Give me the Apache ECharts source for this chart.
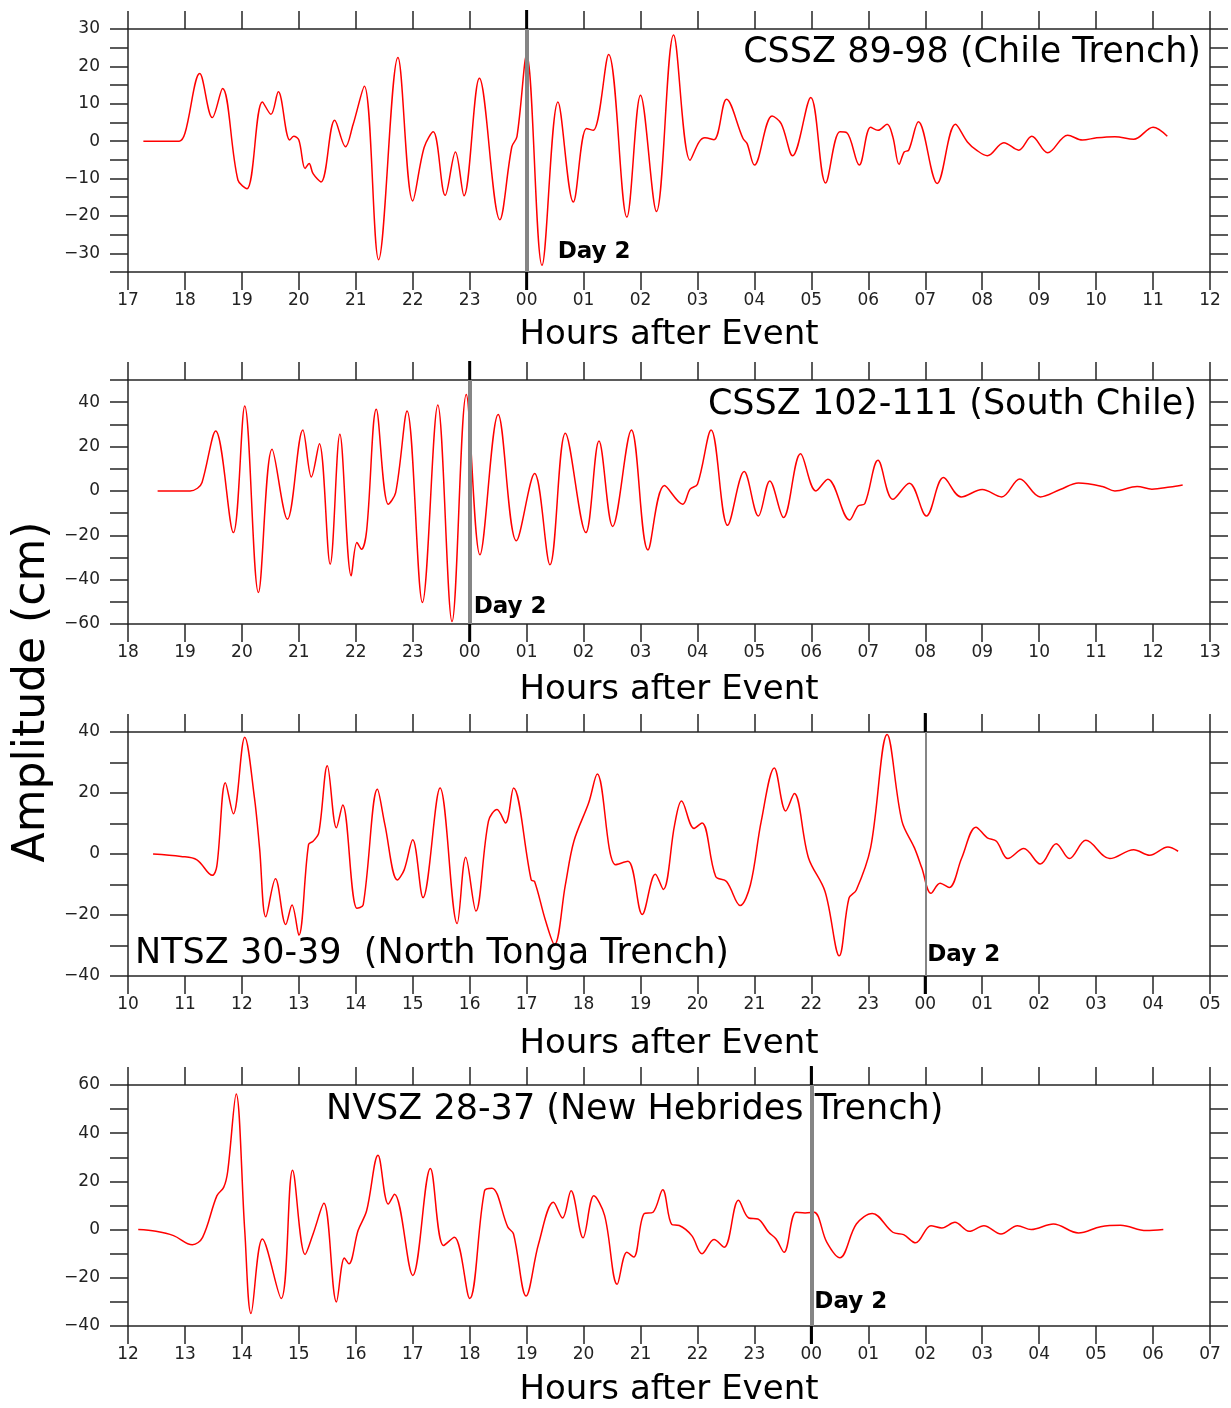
<!DOCTYPE html>
<html>
<head>
<meta charset="utf-8">
<title>Tsunami amplitude time series</title>
<script src="https://cdn.jsdelivr.net/npm/echarts@6/dist/echarts.min.js"></script>
<style>
  html, body { margin: 0; padding: 0; background: #ffffff; }
  #chart { width: 1231px; height: 1408px; }
</style>
</head>
<body>
<div id="chart"></div>
<script>
// ---------- Data: hours after event (continuous, >24 = next day) and amplitude in cm ----------

// CSSZ 89-98 (Chile Trench)
const chileHours = [17.27, 17.60, 17.90, 18.00, 18.26, 18.48, 18.66, 18.93, 19.09, 19.36, 19.51, 19.64,
  19.84, 19.91, 20.00, 20.11, 20.18, 20.25, 20.39, 20.63, 20.82, 20.95, 21.15, 21.40, 21.74, 22.00,
  22.20, 22.36, 22.57, 22.75, 22.90, 23.17, 23.53, 23.74, 23.83, 24.00, 24.27, 24.55, 24.82, 25.05,
  25.17, 25.44, 25.76, 26.00, 26.28, 26.58, 26.87, 27.03, 27.13, 27.29, 27.51, 27.80, 27.87, 28.00,
  28.31, 28.47, 28.67, 28.99, 29.25, 29.50, 29.62, 29.84, 30.04, 30.17, 30.33, 30.43, 30.54, 30.63,
  30.71, 30.88, 31.21, 31.53, 31.74, 31.90, 32.09, 32.38, 32.64, 32.87, 33.15, 33.50, 33.76, 34.01,
  34.33, 34.66, 35.00, 35.25];
const chileAmp = [0, 0, 0, 2.1, 18.1, 6.3, 14.1, -10.4, -12.7, 10.5, 7.2, 13.2,
  0.3, 1.3, 0.3, -7.3, -6.0, -8.7, -10.9, 5.6, -1.5, 4.3, 14.7, -31.7, 22.4, -16.0,
  -1.7, 2.5, -14.5, -2.9, -14.6, 16.8, -21.0, -1.5, 1.2, 23.2, -33.2, 10.5, -16.3, 3.4,
  2.9, 23.2, -20.3, 12.3, -18.8, 28.4, -5.1, -0.2, 0.9, 0.4, 11.2, 0.7, -0.6, -6.4,
  6.7, 4.7, -3.9, 11.7, -11.2, 2.5, 2.3, -6.4, 3.7, 2.9, 4.5, 1.2, -6.2, -2.9,
  -2.4, 5.2, -11.3, 4.5, -0.2, -2.4, -3.9, -0.4, -2.4, 1.3, -3.1, 1.6, 0.3, 0.9,
  1.2, 0.5, 3.7, 1.3];

// CSSZ 102-111 (South Chile)
const southChileHours = [18.52, 19.09, 19.22, 19.30, 19.54, 19.85, 20.05, 20.29, 20.53, 20.80, 21.07,
  21.22, 21.36, 21.55, 21.72, 21.92, 22.02, 22.10, 22.19, 22.36, 22.57, 22.70, 22.90, 23.17, 23.44,
  23.69, 23.94, 24.18, 24.50, 24.82, 25.14, 25.41, 25.68, 26.04, 26.27, 26.51, 26.84, 27.13, 27.42,
  27.74, 27.87, 28.00, 28.24, 28.53, 28.82, 29.07, 29.27, 29.51, 29.81, 30.08, 30.29, 30.67, 30.82,
  30.94, 31.17, 31.43, 31.72, 32.02, 32.32, 32.63, 33.00, 33.34, 33.66, 34.02, 34.37, 34.69, 35.11,
  35.33, 35.72, 35.98, 36.30, 36.52];
const southChileAmp = [0, 0, 1.2, 3.8, 27.0, -18.8, 38.3, -45.8, 18.8, -12.8, 27.5,
  6.3, 21.3, -33.0, 25.5, -38.3, -23.3, -26.3, -18.0, 36.8, -6.0, -0.8, 36.0, -50.3, 38.7,
  -58.9, 43.5, -28.8, 34.5, -22.5, 7.8, -33.3, 26.0, -18.8, 22.5, -16.0, 27.5, -26.6, 2.4,
  -6.0, 0.8, 3.0, 27.5, -15.5, 8.7, -11.3, 4.5, -12.0, 16.8, 0.0, 5.3, -13.1, -6.8,
  -5.7, 13.8, -3.8, 3.5, -11.3, 6.0, -2.7, 0.6, -2.7, 5.4, -2.7, 0.6, 3.6, 2.0,
  0.0, 2.0, 0.8, 1.8, 2.7];

// NTSZ 30-39 (North Tonga Trench)
const tongaHours = [10.44, 10.93, 11.21, 11.48, 11.56, 11.71, 11.85, 12.05, 12.22, 12.31, 12.42, 12.59,
  12.77, 12.88, 13.00, 13.17, 13.25, 13.35, 13.50, 13.66, 13.77, 14.02, 14.13, 14.38, 14.51, 14.73,
  14.85, 15.00, 15.18, 15.48, 15.78, 15.93, 16.11, 16.33, 16.48, 16.63, 16.77, 17.08, 17.14, 17.33,
  17.49, 17.68, 17.83, 18.09, 18.24, 18.56, 18.78, 19.03, 19.26, 19.40, 19.60, 19.72, 19.94, 20.08,
  20.32, 20.51, 20.75, 20.93, 21.12, 21.35, 21.55, 21.70, 21.95, 22.24, 22.49, 22.66, 22.79, 23.04,
  23.33, 23.59, 23.81, 23.94, 24.10, 24.26, 24.42, 24.64, 24.89, 25.09, 25.25, 25.45, 25.73, 26.02,
  26.30, 26.53, 26.82, 27.24, 27.66, 27.94, 28.26, 28.44];
const tongaAmp = [0, -0.8, -1.9, -7.0, -4.0, 23.4, 13.2, 38.3, 18.5, 2.0, -20.6, -8.1,
  -23.1, -16.7, -26.6, 3.1, 4.2, 6.9, 28.9, 8.6, 16.1, -17.8, -16.7, 21.2, 9.7, -8.5,
  -5.2, 4.7, -14.3, 21.6, -22.8, -1.1, -18.7, 10.8, 14.6, 10.2, 21.6, -8.5, -9.0, -21.7,
  -29.7, -10.1, 4.2, 16.8, 26.2, -3.5, -2.4, -19.8, -6.6, -11.6, 9.7, 17.4, 8.4, 10.2,
  -7.4, -9.0, -16.9, -10.1, 10.8, 28.2, 14.1, 19.8, -1.3, -12.3, -33.4, -14.5, -11.8, 2.0,
  39.2, 10.8, 2.0, -4.6, -12.9, -9.6, -11.0, -1.3, 8.8, 5.3, 4.2, -1.5, 1.8, -3.3,
  3.4, -1.5, 4.5, -1.5, 1.4, -0.4, 2.3, 0.9];

// NVSZ 28-37 (New Hebrides Trench)
const hebridesHours = [12.18, 12.49, 12.80, 13.13, 13.31, 13.56, 13.68, 13.75, 13.90, 14.05, 14.16, 14.36,
  14.69, 14.89, 15.11, 15.25, 15.44, 15.66, 15.80, 15.88, 16.04, 16.19, 16.39, 16.57, 16.68, 17.00,
  17.31, 17.54, 17.73, 18.00, 18.26, 18.39, 18.67, 18.77, 18.99, 19.21, 19.47, 19.63, 19.78, 19.99,
  20.18, 20.37, 20.59, 20.76, 20.88, 21.06, 21.22, 21.39, 21.55, 21.68, 21.90, 22.08, 22.29, 22.47,
  22.72, 22.90, 23.06, 23.25, 23.38, 23.52, 23.73, 23.89, 24.05, 24.27, 24.50, 24.79, 25.07, 25.43,
  25.62, 25.83, 26.10, 26.29, 26.52, 26.77, 27.03, 27.33, 27.62, 27.86, 28.25, 28.69, 29.08, 29.43,
  29.88, 30.18];
const hebridesAmp = [0, -0.7, -2.5, -6.3, -3.2, 14.0, 17.5, 24.0, 56.3, -0.4, -34.8, -3.9,
  -28.6, 24.6, -10.3, -1.8, 10.9, -30.0, -11.8, -14.2, -0.4, 7.8, 30.9, 10.6, 14.7, -19.0,
  25.4, -6.6, -3.2, -28.6, 16.1, 17.2, 1.0, -1.8, -27.6, -5.9, 11.3, 4.8, 16.1, -3.4,
  14.0, 5.8, -22.7, -9.4, -11.4, 6.5, 7.2, 16.5, 2.1, 1.7, -2.5, -10.0, -4.1, -7.3,
  12.2, 4.8, 4.4, -1.1, -3.9, -9.4, 7.2, 6.9, 7.2, -5.2, -11.7, 2.3, 6.7, -1.1,
  -2.1, -5.5, 1.6, 0.7, 3.0, -0.7, 1.6, -1.8, 1.6, 0.0, 2.3, -1.4, 1.2, 1.8,
  -0.4, 0.0];

// Panel titles
const titles = ['CSSZ 89-98 (Chile Trench)', 'CSSZ 102-111 (South Chile)',
  'NTSZ 30-39  (North Tonga Trench)', 'NVSZ 28-37 (New Hebrides Trench)'];

// ---------- Panel configuration ----------
const panels = [
  { hours: chileHours, amp: chileAmp, xMin: 17, xMax: 36, yMin: -35, yMax: 30, yStep: 5, yLabelStep: 10,
    top: 29, height: 243, nameGap: 46, dayWidth: 4, dayDx: 31, dayDy: 20,
    title: { text: titles[0], align: 'right', x: 1201, y: 53 } },
  { hours: southChileHours, amp: southChileAmp, xMin: 18, xMax: 37, yMin: -60, yMax: 50, yStep: 10, yLabelStep: 20,
    top: 380, height: 244, nameGap: 49, dayWidth: 4, dayDx: 4, dayDy: 17,
    title: { text: titles[1], align: 'right', x: 1197, y: 405 } },
  { hours: tongaHours, amp: tongaAmp, xMin: 10, xMax: 29, yMin: -40, yMax: 40, yStep: 10, yLabelStep: 20,
    top: 732, height: 244, nameGap: 51, dayWidth: 2, dayDx: 2, dayDy: 21,
    title: { text: titles[2], align: 'left', x: 135, y: 954 } },
  { hours: hebridesHours, amp: hebridesAmp, xMin: 12, xMax: 31, yMin: -40, yMax: 60, yStep: 10, yLabelStep: 20,
    top: 1085, height: 243, nameGap: 47, dayWidth: 4, dayDx: 3, dayDy: 24,
    title: { text: titles[3], align: 'left', x: 326, y: 1110 } }
];
const DAY_TWO = 24; // midnight, start of day 2

const FONT = 'DejaVu Sans';
const AXIS_COLOR = '#262626';
const hourLabel = v => String(((Math.round(v) % 24) + 24) % 24).padStart(2, '0');
const ampLabel = step => v => (Math.round(v) % step === 0 ? (v < 0 ? '\u2212' + (-v) : String(v)) : '');

const grids = [], xAxes = [], yAxes = [], series = [];
panels.forEach((p, i) => {
  grids.push({ left: 128, right: 21, top: p.top, height: p.height });
  const xCommon = { type: 'value', gridIndex: i, min: p.xMin, max: p.xMax, interval: 1,
    splitLine: { show: false },
    axisLine: { show: true, onZero: false, lineStyle: { color: AXIS_COLOR, width: 1.5 } },
    axisTick: { show: true, inside: false, length: 18, lineStyle: { color: AXIS_COLOR, width: 1.5 } } };
  xAxes.push(Object.assign({}, xCommon, { position: 'bottom',
    axisLabel: { show: true, formatter: hourLabel, fontFamily: FONT, fontSize: 17, color: '#222', margin: 20,
      showMinLabel: true, showMaxLabel: true, hideOverlap: false },
    name: 'Hours after Event', nameLocation: 'middle', nameGap: p.nameGap,
    nameTextStyle: { fontFamily: FONT, fontSize: 34, color: '#000' } }));
  xAxes.push(Object.assign({}, xCommon, { position: 'top', axisLabel: { show: false } }));
  const yCommon = { type: 'value', gridIndex: i, min: p.yMin, max: p.yMax, interval: p.yStep,
    splitLine: { show: false },
    axisLine: { show: true, onZero: false, lineStyle: { color: AXIS_COLOR, width: 1.5 } },
    axisTick: { show: true, inside: false, length: 18, lineStyle: { color: AXIS_COLOR, width: 1.5 } } };
  yAxes.push(Object.assign({}, yCommon, { position: 'left',
    axisLabel: { show: true, formatter: ampLabel(p.yLabelStep), fontFamily: FONT, fontSize: 17, color: '#222',
      margin: 28, showMinLabel: true, showMaxLabel: true, hideOverlap: false } }));
  yAxes.push(Object.assign({}, yCommon, { position: 'right', axisLabel: { show: false } }));

  series.push({
    type: 'line', xAxisIndex: 2 * i, yAxisIndex: 2 * i,
    data: p.hours.map((h, k) => [h, p.amp[k]]),
    showSymbol: false, smooth: 0.35, clip: true,
    lineStyle: { color: '#ff0000', width: 1.5 },
    markLine: { silent: true, symbol: 'none', label: { show: false },
      lineStyle: { color: '#858585', width: p.dayWidth, type: 'solid' },
      data: [{ xAxis: DAY_TWO }] }
  });
});

const chart = echarts.init(document.getElementById('chart'), null, { renderer: 'canvas' });
chart.setOption({
  animation: false,
  backgroundColor: '#ffffff',
  textStyle: { fontFamily: FONT },
  grid: grids, xAxis: xAxes, yAxis: yAxes, series: series
});

// Annotations positioned through the axes' own scales
const graphics = [];
panels.forEach((p, i) => {
  const finder = { xAxisIndex: 2 * i, yAxisIndex: 2 * i };
  const [dx, yBottom] = chart.convertToPixel(finder, [DAY_TWO, p.yMin]);
  const [, yTop] = chart.convertToPixel(finder, [DAY_TWO, p.yMax]);
  graphics.push({ type: 'line', silent: true, z: 100,
    shape: { x1: dx, y1: yTop - 19, x2: dx, y2: yTop }, style: { stroke: '#000', lineWidth: 3 } });
  graphics.push({ type: 'line', silent: true, z: 100,
    shape: { x1: dx, y1: yBottom, x2: dx, y2: yBottom + 18 }, style: { stroke: '#000', lineWidth: 3 } });
  graphics.push({ type: 'text', silent: true, z: 100, x: dx + p.dayDx, y: yBottom - p.dayDy,
    style: { text: 'Day 2', fontFamily: FONT, fontSize: 23, fontWeight: 'bold', fill: '#000',
      align: 'left', verticalAlign: 'middle' } });
  graphics.push({ type: 'text', silent: true, z: 100, x: p.title.x, y: p.title.y,
    style: { text: p.title.text, fontFamily: FONT, fontSize: 35, fill: '#000',
      align: p.title.align, verticalAlign: 'middle' } });
});
graphics.push({ type: 'text', silent: true, z: 100, x: 33, y: 692, rotation: Math.PI / 2,
  style: { text: 'Amplitude (cm)', fontFamily: FONT, fontSize: 44, fill: '#000',
    align: 'center', verticalAlign: 'middle' } });
chart.setOption({ graphic: graphics });
</script>
</body>
</html>
